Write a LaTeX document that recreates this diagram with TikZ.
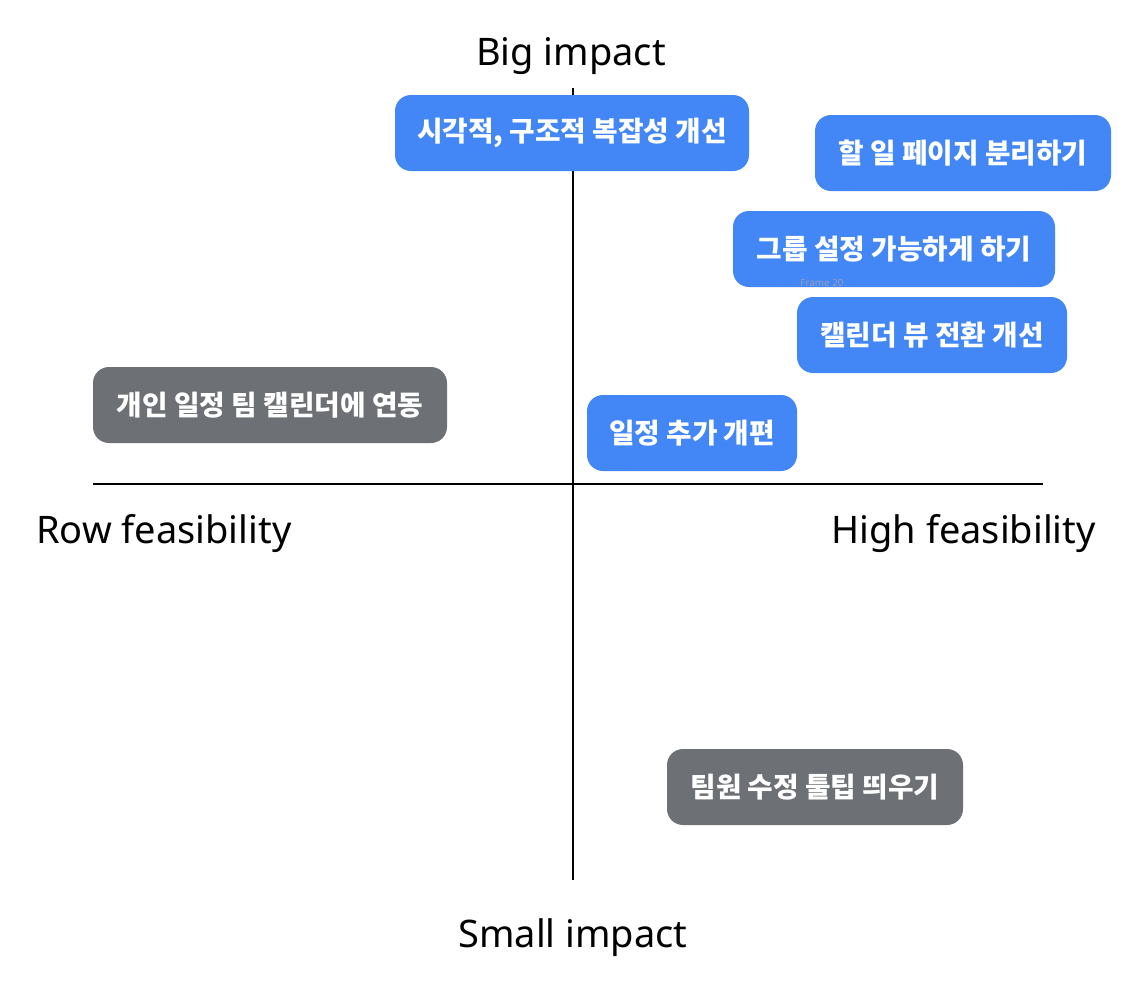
\documentclass[tikz,border=0pt]{standalone}
\usepackage{fontspec}
\setmainfont{Noto Sans}
\newfontfamily\kr{Noto Sans CJK KR}
\usepackage{tikz}
\usetikzlibrary{positioning,calc}
\definecolor{taskblue}{HTML}{4287F5}
\definecolor{taskgray}{HTML}{6D7075}
\definecolor{framegray}{HTML}{9A9EB8}

\begin{document}
\begin{tikzpicture}[
  axis/.style={line width=0.9pt, black},
  axislabel/.style={font=\fontsize{21.6}{25}\selectfont, inner sep=0pt},
  task/.style={rounded corners=0.32cm, minimum height=1.52cm, inner sep=0pt,
    text=white, font=\kr\bfseries\fontsize{15.8}{18}\selectfont},
  hightask/.style={task, fill=taskblue},
  lowtask/.style={task, fill=taskgray}
]
\useasboundingbox (0,0) rectangle (22.86,-20.08);

% ================= Axes =================
\coordinate (top) at (11.46,-1.76);
\coordinate (bottom) at (11.46,-17.60);
\coordinate (left) at (1.86,-9.68);
\coordinate (right) at (20.86,-9.68);

\draw[axis] (top) -- (bottom);
\draw[axis] (left) -- (right);

\node[axislabel] (big) at (11.42,-1.12) {Big impact};
\node[axislabel] (small) at (11.46,-18.76) {Small impact};
\node[axislabel, anchor=west] (row) at (0.72,-10.68) {Row feasibility};
\node[axislabel, anchor=east] (high) at (21.92,-10.68) {High feasibility};

% ================= Tasks =================
\node[hightask, minimum width=7.08cm] (visual) at (11.44,-2.66) {시각적, 구조적 복잡성 개선};
\node[hightask, minimum width=5.92cm] (todo) at (19.26,-3.06) {할 일 페이지 분리하기};
\node[hightask, minimum width=6.44cm] (group) at (17.88,-4.98) {그룹 설정 가능하게 하기};
\node[hightask, minimum width=5.40cm] (calview) at (18.64,-6.70) {캘린더 뷰 전환 개선};
\node[hightask, minimum width=4.20cm] (addevent) at (13.84,-8.66) {일정 추가 개편};
\node[lowtask, minimum width=7.08cm] (sync) at (5.40,-8.10) {개인 일정 팀 캘린더에 연동};
\node[lowtask, minimum width=5.92cm] (tooltip) at (16.30,-15.74) {팀원 수정 툴팁 띄우기};

\node[text=framegray, font=\fontsize{5.6}{6}\selectfont, inner sep=0pt] (frame) at (16.44,-5.66) {Frame 20};

\end{tikzpicture}
\end{document}
